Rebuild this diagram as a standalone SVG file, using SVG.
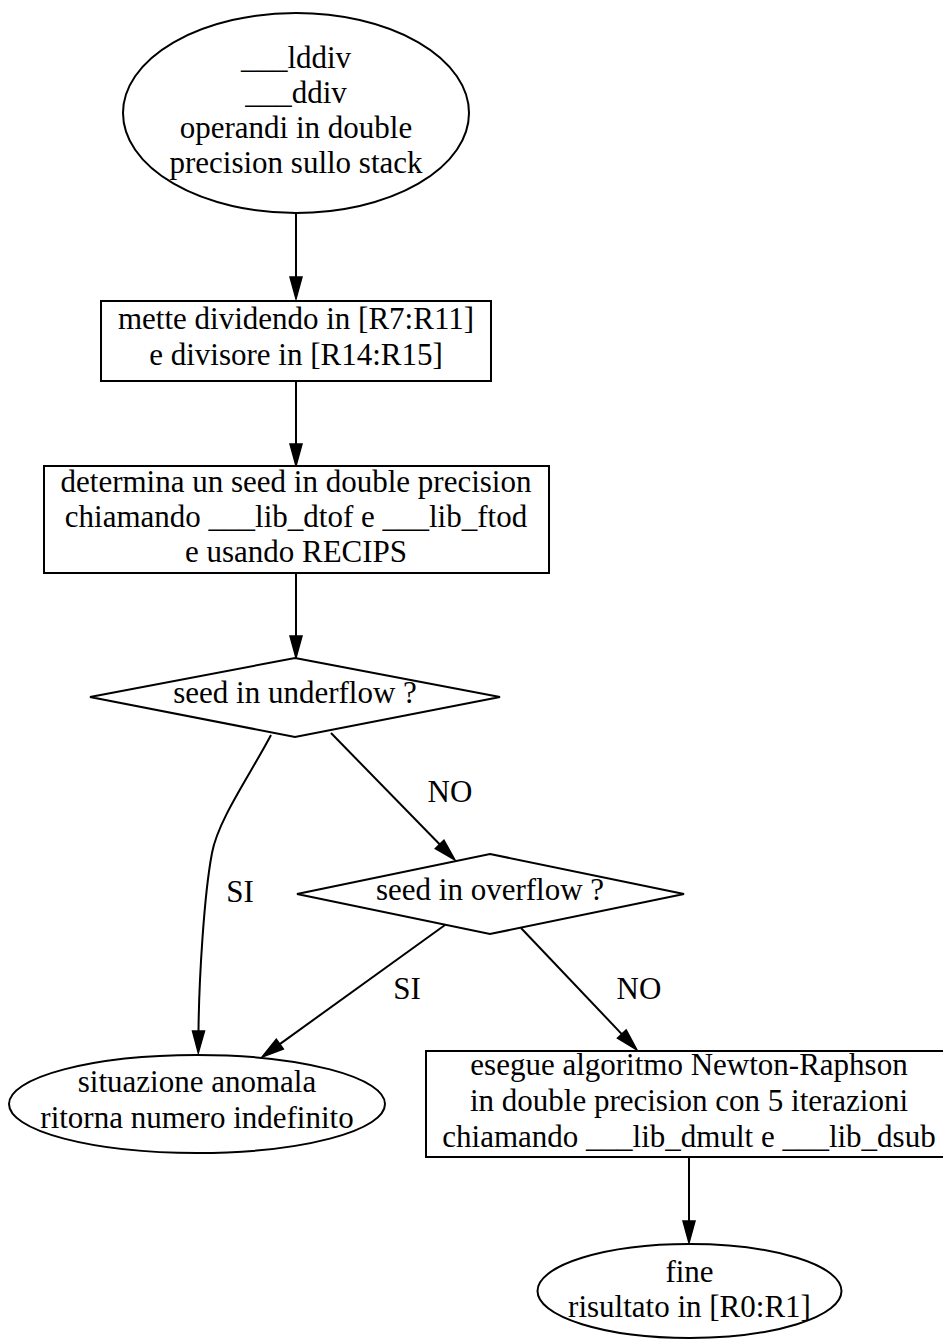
<svg xmlns="http://www.w3.org/2000/svg" width="943" height="1339" viewBox="0 0 943 1339">
  <style>
    .shape { fill: #ffffff; stroke: #000000; stroke-width: 2; }
    .edge { fill: none; stroke: #000000; stroke-width: 2; }
    text { font-family: "Liberation Serif", "Times New Roman", Times, serif; font-size: 31px; fill: #000000; text-anchor: middle; }
  </style>
  <defs>
    <marker id="arrow" markerUnits="userSpaceOnUse" markerWidth="23" markerHeight="13" refX="0" refY="6.5" orient="auto" overflow="visible">
      <path d="M0,0.5 L22,6.5 L0,12.5 Z" fill="#000000" stroke="#000000" stroke-width="1.5"/>
    </marker>
  </defs>
  <rect width="943" height="1339" fill="#ffffff"/>

  <!-- connectors -->
  <g id="edges">
    <line class="edge" x1="296" y1="213" x2="296" y2="277" marker-end="url(#arrow)"/>
    <line class="edge" x1="296" y1="381" x2="296" y2="444" marker-end="url(#arrow)"/>
    <line class="edge" x1="296" y1="573" x2="296" y2="636" marker-end="url(#arrow)"/>
    <line class="edge" x1="331" y1="733" x2="439.6" y2="844.3" marker-end="url(#arrow)"/>
    <text x="450" y="802">NO</text>
    <path class="edge" d="M271,735 C250,775 218,820 212,853 C204,895 199,980 198.5,1031" marker-end="url(#arrow)"/>
    <text x="240" y="902">SI</text>
    <line class="edge" x1="445" y1="925" x2="279.8" y2="1044.1" marker-end="url(#arrow)"/>
    <text x="407" y="999">SI</text>
    <line class="edge" x1="521" y1="928" x2="621.8" y2="1034.1" marker-end="url(#arrow)"/>
    <text x="639" y="999">NO</text>
    <line class="edge" x1="689" y1="1157" x2="689" y2="1221" marker-end="url(#arrow)"/>
  </g>

  <!-- entry point -->
  <g id="start">
    <ellipse class="shape" cx="296" cy="113" rx="173" ry="100"/>
    <text x="296" y="68">___lddiv</text>
    <text x="296" y="103">___ddiv</text>
    <text x="296" y="138">operandi in double</text>
    <text x="296" y="173">precision sullo stack</text>
  </g>

  <g id="load">
    <rect class="shape" x="101" y="301" width="390" height="80"/>
    <text x="296" y="329">mette dividendo in [R7:R11]</text>
    <text x="296" y="365">e divisore in [R14:R15]</text>
  </g>

  <g id="seed">
    <rect class="shape" x="44" y="466" width="505" height="107"/>
    <text x="296" y="492">determina un seed in double precision</text>
    <text x="296" y="527">chiamando ___lib_dtof e ___lib_ftod</text>
    <text x="296" y="562">e usando RECIPS</text>
  </g>

  <g id="underflow">
    <polygon class="shape" points="295,658 500,697 295,737 90,697"/>
    <text x="295" y="703">seed in underflow ?</text>
  </g>

  <g id="overflow">
    <polygon class="shape" points="490,854 684,894 490,934 297,894"/>
    <text x="490" y="900">seed in overflow ?</text>
  </g>

  <g id="anomaly">
    <ellipse class="shape" cx="197" cy="1104" rx="188" ry="49"/>
    <text x="197" y="1092">situazione anomala</text>
    <text x="197" y="1128">ritorna numero indefinito</text>
  </g>

  <g id="newton">
    <rect class="shape" x="426" y="1051" width="526" height="106"/>
    <text x="689" y="1075">esegue algoritmo Newton-Raphson</text>
    <text x="689" y="1111">in double precision con 5 iterazioni</text>
    <text x="689" y="1147">chiamando ___lib_dmult e ___lib_dsub</text>
  </g>

  <g id="end">
    <ellipse class="shape" cx="689.5" cy="1291" rx="152" ry="47"/>
    <text x="689.5" y="1282">fine</text>
    <text x="689.5" y="1317">risultato in [R0:R1]</text>
  </g>
</svg>
